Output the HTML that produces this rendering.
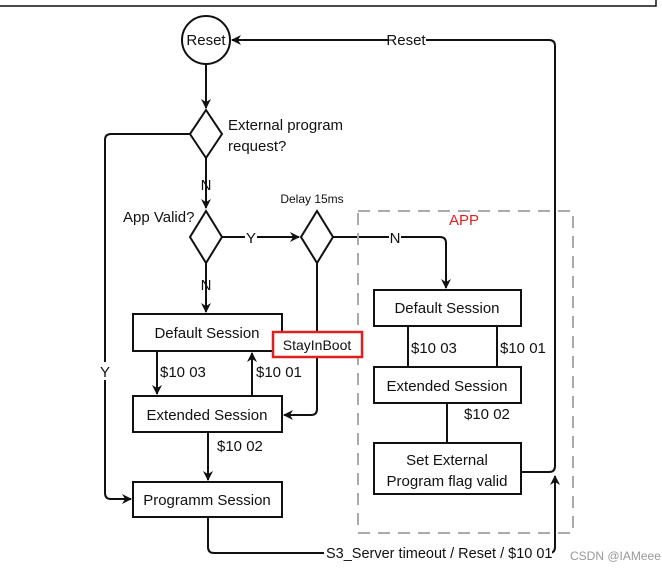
<!DOCTYPE html>
<html><head><style>
body{margin:0;background:#fff;}
svg{display:block;font-family:"Liberation Sans",sans-serif;}
</style></head><body>
<svg width="662" height="570" viewBox="0 0 662 570" xmlns="http://www.w3.org/2000/svg">
<defs><marker id="a" markerWidth="10" markerHeight="10" refX="9" refY="5" orient="auto" markerUnits="userSpaceOnUse"><path d="M0,0 L10,5 L0,10 L3,5 z" fill="#111"/></marker></defs>
<g stroke="#111" stroke-width="2" fill="none">
<path d="M0,6 H656 V0" stroke-width="1.5"/>
<circle cx="206" cy="40" r="24" fill="#fff"/>
<path d="M206,64 V108" marker-end="url(#a)"/>
<path d="M206,110 L222,134 L206,158 L190,134 Z" fill="#fff"/>
<path d="M206,158 V208" marker-end="url(#a)"/>
<path d="M206,211 L222,237 L206,263 L190,237 Z" fill="#fff"/>
<path d="M206,263 V312" marker-end="url(#a)"/>
<path d="M222,237 H299" marker-end="url(#a)"/>
<path d="M317,211 L333,237 L317,263 L301,237 Z" fill="#fff"/>
<path d="M333,237 H440 Q446,237 446,243 V288" marker-end="url(#a)"/>
<path d="M317,263 V409 Q317,415 311,415 H284" marker-end="url(#a)"/>
<path d="M190,134 H111 Q105,134 105,140 V493 Q105,499 111,499 H131" marker-end="url(#a)"/>
<rect x="133" y="314" width="149" height="37" fill="#fff"/>
<rect x="133" y="396" width="149" height="36" fill="#fff"/>
<rect x="133" y="482" width="149" height="35" fill="#fff"/>
<path d="M157,351 V394" marker-end="url(#a)"/>
<path d="M252,396 V353" marker-end="url(#a)"/>
<path d="M208,432 V480" marker-end="url(#a)"/>
<path d="M208,517 V547 Q208,553 214,553 H549 Q555,553 555,547 V476" marker-end="url(#a)"/>
<path d="M521,472 H549 Q555,472 555,466 V46 Q555,40 549,40 H232" marker-end="url(#a)"/>
<rect x="358" y="211" width="215" height="322" stroke="#aaa" stroke-width="2" stroke-dasharray="12,8"/>
<rect x="374" y="290" width="147" height="36" fill="#fff"/>
<rect x="374" y="367" width="147" height="36" fill="#fff"/>
<rect x="374" y="443" width="147" height="51" fill="#fff"/>
<path d="M408,326 V367 M497,326 V367 M447,403 V443"/>
<rect x="273" y="332" width="89" height="25" stroke="#e02020" stroke-width="2.5" fill="#fff"/>
</g>
<g font-size="15" fill="#111">
<text x="206" y="45" text-anchor="middle">Reset</text>
<rect x="388" y="32" width="38" height="16" fill="#fff"/>
<text x="406" y="45" text-anchor="middle">Reset</text>
<text x="228" y="130">External program</text>
<text x="228" y="151">request?</text>
<text x="206" y="190" text-anchor="middle">N</text>
<text x="123" y="222">App Valid?</text>
<text x="312" y="203" text-anchor="middle" font-size="12">Delay 15ms</text>
<rect x="245" y="230" width="12" height="16" fill="#fff"/>
<text x="251" y="243" text-anchor="middle">Y</text>
<rect x="389" y="230" width="12" height="16" fill="#fff"/>
<text x="395" y="243" text-anchor="middle">N</text>
<text x="206" y="290" text-anchor="middle">N</text>
<text x="464" y="225" text-anchor="middle" fill="#e02020">APP</text>
<text x="207" y="338" text-anchor="middle">Default Session</text>
<text x="207" y="420" text-anchor="middle">Extended Session</text>
<text x="207" y="505" text-anchor="middle">Programm Session</text>
<text x="160" y="377">$10 03</text>
<text x="256" y="377">$10 01</text>
<text x="217" y="451">$10 02</text>
<rect x="98" y="362" width="14" height="18" fill="#fff"/>
<text x="105" y="377" text-anchor="middle">Y</text>
<text x="317" y="350" text-anchor="middle" font-size="14">StayInBoot</text>
<text x="447" y="313" text-anchor="middle">Default Session</text>
<text x="447" y="391" text-anchor="middle">Extended Session</text>
<text x="447" y="465" text-anchor="middle">Set External</text>
<text x="447" y="486" text-anchor="middle">Program flag valid</text>
<text x="411" y="353">$10 03</text>
<text x="500" y="353">$10 01</text>
<text x="464" y="419">$10 02</text>
<rect x="324" y="544" width="228" height="18" fill="#fff"/>
<text x="326" y="558" font-size="14.5">S3_Server timeout / Reset / $10 01</text>
<text x="570" y="560" font-size="12" fill="#999">CSDN @IAMeee</text>
</g>
</svg>
</body></html>
